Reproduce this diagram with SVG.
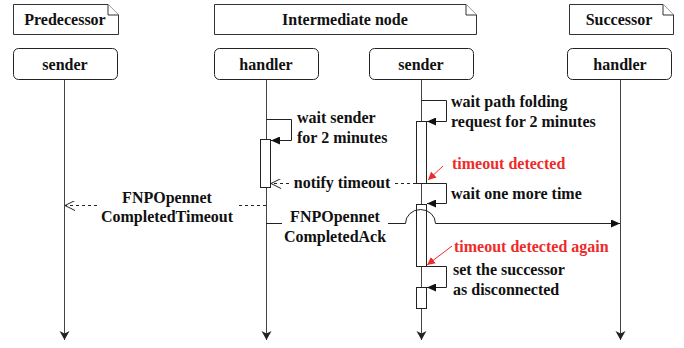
<svg xmlns="http://www.w3.org/2000/svg" width="684" height="348" viewBox="0 0 684 348">
<style>
text{font-family:'Liberation Serif',serif;font-weight:700;font-size:16px;fill:#111}
.c{text-anchor:middle}
.red{fill:#ee2b2b}
.note{fill:#fff;stroke:#333;stroke-width:1}
.hd{fill:#fff;stroke:#222;stroke-width:1}
.life{stroke:#444;stroke-width:1;fill:none}
.act{fill:#fff;stroke:#222;stroke-width:1}
.msg{stroke:#222;stroke-width:1;fill:none}
.dash{stroke:#222;stroke-width:1;fill:none;stroke-dasharray:3,3}
.ra{stroke:#ee2b2b;stroke-width:1;fill:none}
</style>
<defs>
<marker id="fa" markerWidth="10" markerHeight="8" refX="9" refY="4" orient="auto" markerUnits="userSpaceOnUse"><path d="M0,0 L9,4 L0,8 Z" fill="#111"/></marker>
<marker id="la" markerWidth="10" markerHeight="12" refX="9" refY="5" orient="auto" markerUnits="userSpaceOnUse"><path d="M0,0 L9,5 L0,10 L2.5,5 Z" fill="#222"/></marker>
<marker id="oa" markerWidth="11" markerHeight="10" refX="10" refY="5" orient="auto" markerUnits="userSpaceOnUse"><path d="M0,0 L10,5 L0,10" fill="none" stroke="#222" stroke-width="1"/></marker>
<marker id="rd" markerWidth="9" markerHeight="8" refX="8" refY="4" orient="auto" markerUnits="userSpaceOnUse"><path d="M0,0 L8,4 L0,8 Z" fill="#ee2b2b"/></marker>
</defs>

<g id="predecessor">
<path class="note" d="M13.5,4.5 H108 L118.5,15 V34.5 H13.5 Z"/>
<path class="note" d="M108,4.5 V15 H118.5" fill="none"/>
<text class="c" x="65" y="25" font-family="Liberation Serif">Predecessor</text>
</g>
<g id="intermediate">
<path class="note" d="M214.5,4.5 H466 L476.5,15 V34.5 H214.5 Z"/>
<path class="note" d="M466,4.5 V15 H476.5" fill="none"/>
<text class="c" x="345" y="25">Intermediate node</text>
</g>
<g id="successor">
<path class="note" d="M569.5,4.5 H663 L673.5,15 V34.5 H569.5 Z"/>
<path class="note" d="M663,4.5 V15 H673.5" fill="none"/>
<text class="c" x="619" y="25">Successor</text>
</g>

<g id="pred-sender">
<rect class="hd" x="13.5" y="48.5" width="104" height="31" rx="5"/>
<text class="c" x="65" y="70">sender</text>
</g>
<g id="int-handler">
<rect class="hd" x="214.5" y="48.5" width="104" height="31" rx="5"/>
<text class="c" x="266" y="70">handler</text>
</g>
<g id="int-sender">
<rect class="hd" x="369.5" y="48.5" width="104" height="31" rx="5"/>
<text class="c" x="421" y="70">sender</text>
</g>
<g id="succ-handler">
<rect class="hd" x="567.5" y="48.5" width="104" height="31" rx="5"/>
<text class="c" x="620" y="70">handler</text>
</g>

<g id="connectors">
<path class="life" d="M64.5,80 V340" marker-end="url(#la)"/>
<path class="life" d="M266.5,80 V340" marker-end="url(#la)"/>
<path class="life" d="M421.5,80 V340" marker-end="url(#la)"/>
<path class="life" d="M620.5,80 V340" marker-end="url(#la)"/>

<rect class="act" x="260.5" y="139.5" width="10" height="48"/>
<rect class="act" x="416.5" y="121.5" width="10" height="62"/>
<rect class="act" x="416.5" y="204.5" width="10" height="62"/>
<rect class="act" x="416.5" y="287.5" width="10" height="21"/>

<path class="msg" d="M266.5,119.5 H291.5 V140.5 H271" marker-end="url(#fa)"/>
<path class="msg" d="M421.5,100.5 H446.5 V121.5 H427" marker-end="url(#fa)"/>
<path class="msg" d="M421.5,183.5 H446.5 V203.5 H427" marker-end="url(#fa)"/>
<path class="msg" d="M421.5,266.5 H446.5 V287.5 H427" marker-end="url(#fa)"/>

<path class="dash" d="M416,183.5 H395"/>
<path class="dash" d="M289,183.5 H271" marker-end="url(#oa)"/>

<path class="dash" d="M266,205.5 H238"/>
<path class="dash" d="M97,205.5 H65" marker-end="url(#oa)"/>

<path class="msg" d="M266,223.5 H282"/>
<path class="msg" d="M388,223.5 H405.5 A15,14 0 0 1 435.5,223.5 H620" marker-end="url(#fa)"/>

<path class="ra" d="M443,166 L428,180" marker-end="url(#rd)"/>
<path class="ra" d="M452,246 L427,265" marker-end="url(#rd)"/>
</g>

<text x="297" y="123">wait sender</text>
<text x="297" y="143">for 2 minutes</text>
<text x="451" y="107">wait path folding</text>
<text x="451" y="127">request for 2 minutes</text>
<text class="red" x="452" y="169">timeout detected</text>
<text class="c" x="342" y="188">notify timeout</text>
<text x="451" y="199">wait one more time</text>
<text class="c" x="167" y="203">FNPOpennet</text>
<text class="c" x="167" y="222">CompletedTimeout</text>
<text class="c" x="335" y="222">FNPOpennet</text>
<text class="c" x="335" y="242">CompletedAck</text>
<text class="red" x="454" y="252">timeout detected again</text>
<text x="453" y="275">set the successor</text>
<text x="453" y="295">as disconnected</text>
</svg>
